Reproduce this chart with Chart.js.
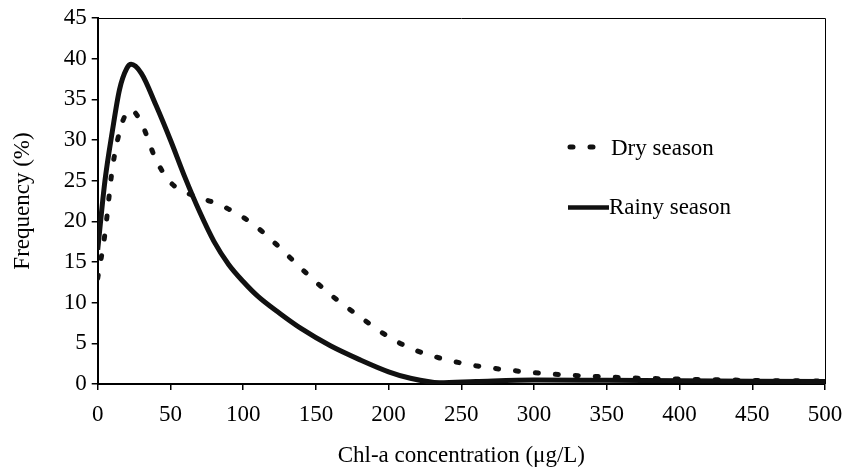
<!DOCTYPE html>
<html>
<head>
<meta charset="utf-8">
<script src="https://cdn.jsdelivr.net/npm/chart.js@4.4.1/dist/chart.umd.min.js"></script>
<style>
  html, body { margin: 0; padding: 0; background: #fff; }
  #wrap { width: 857px; height: 467px; }
</style>
</head>
<body>
<div id="wrap"><canvas id="c" width="857" height="467"></canvas></div>
<script>
// Chl-a concentration (µg/L) sample points
const concentration = [0, 5, 10, 15, 20, 23, 30, 40, 50, 60, 70, 80, 90, 100, 110, 125, 140, 160, 180, 200, 215, 235, 260, 300, 350, 400, 450, 500];
// Frequency (%) - dry season
const drySeason = [13.0, 18.5, 26.4, 31.0, 33.4, 33.7, 32.1, 27.6, 24.8, 23.6, 22.9, 22.3, 21.5, 20.5, 19.2, 16.8, 14.2, 11.0, 8.3, 5.8, 4.4, 3.2, 2.25, 1.4, 0.86, 0.6, 0.45, 0.35];
// Frequency (%) - rainy season
const rainySeason = [16.5, 25.0, 31.0, 36.2, 38.8, 39.3, 38.2, 34.3, 30.0, 25.4, 21.2, 17.5, 14.7, 12.6, 10.8, 8.7, 6.8, 4.7, 3.0, 1.5, 0.7, 0.15, 0.3, 0.5, 0.45, 0.4, 0.35, 0.3];
const seriesLabels = ['Dry season', 'Rainy season'];
const xTicks = [0, 50, 100, 150, 200, 250, 300, 350, 400, 450, 500];
const yTicks = [0, 5, 10, 15, 20, 25, 30, 35, 40, 45];

const FONT = 'Liberation Serif, "Times New Roman", serif';
const FS = 23;
Chart.defaults.font.family = FONT;
Chart.defaults.font.size = FS;
Chart.defaults.color = '#000';

const toPts = (ys) => concentration.map((x, i) => ({ x: x, y: ys[i] }));

const frameAndLegend = {
  id: 'frameAndLegend',
  afterDraw(chart) {
    const ctx = chart.ctx;
    const a = chart.chartArea;
    ctx.save();
    // top and right frame lines
    ctx.strokeStyle = '#000';
    ctx.lineWidth = 1;
    ctx.beginPath();
    ctx.moveTo(a.left, a.top + 0.5);
    ctx.lineTo(a.right + 0.5, a.top + 0.5);
    ctx.lineTo(a.right + 0.5, a.bottom);
    ctx.stroke();

    // legend
    const ds = chart.data.datasets;
    ctx.font = FS + 'px ' + FONT;
    ctx.fillStyle = '#000';
    ctx.textBaseline = 'middle';
    ctx.textAlign = 'left';
    // dry
    ctx.strokeStyle = '#111';
    ctx.lineWidth = 5;
    ctx.lineCap = 'round';
    ctx.setLineDash([3, 17]);
    ctx.beginPath();
    ctx.moveTo(570, 147);
    ctx.lineTo(594, 147);
    ctx.stroke();
    ctx.setLineDash([]);
    ctx.fillText(ds[0].label, 611, 149);
    // rainy
    ctx.lineCap = 'butt';
    ctx.lineWidth = 4.5;
    ctx.beginPath();
    ctx.moveTo(568, 207.5);
    ctx.lineTo(609, 207.5);
    ctx.stroke();
    ctx.fillText(ds[1].label, 609, 208);
    ctx.restore();
  }
};

new Chart(document.getElementById('c'), {
  type: 'line',
  data: {
    datasets: [
      {
        label: seriesLabels[0],
        data: toPts(drySeason),
        borderColor: '#111',
        borderWidth: 5,
        borderDash: [3, 17],
        borderCapStyle: 'round',
        cubicInterpolationMode: 'monotone',
        pointRadius: 0,
        fill: false
      },
      {
        label: seriesLabels[1],
        data: toPts(rainySeason),
        borderColor: '#111',
        borderWidth: 5,
        cubicInterpolationMode: 'monotone',
        pointRadius: 0,
        fill: false
      }
    ]
  },
  options: {
    responsive: false,
    animation: false,
    devicePixelRatio: 1,
    layout: { padding: { left: 0, right: 32, top: 18, bottom: 0 } },
    plugins: { legend: { display: false }, tooltip: { enabled: false } },
    scales: {
      x: {
        type: 'linear',
        min: 0,
        max: 500,
        afterFit(scale) { scale.height = 83; },
        afterBuildTicks(scale) { scale.ticks = xTicks.map(v => ({ value: v })); },
        ticks: { padding: 11, color: '#000', font: { size: FS } },
        grid: { drawOnChartArea: false, drawTicks: true, tickLength: 6, color: '#000', lineWidth: 1.5 },
        border: { display: true, color: '#000', width: 2 },
        title: { display: true, text: 'Chl-a concentration (μg/L)', color: '#000', font: { size: FS, lineHeight: 1 }, padding: { top: 0, bottom: 0 } }
      },
      y: {
        type: 'linear',
        min: 0,
        max: 45,
        afterFit(scale) { scale.width = 97.7; },
        afterBuildTicks(scale) { scale.ticks = yTicks.map(v => ({ value: v })); },
        ticks: { padding: 5, color: '#000', font: { size: FS, lineHeight: 1 } },
        grid: { drawOnChartArea: false, drawTicks: true, tickLength: 6, color: '#000', lineWidth: 1.5 },
        border: { display: true, color: '#000', width: 2 },
        title: { display: true, text: 'Frequency (%)', color: '#000', font: { size: FS, lineHeight: 1 }, padding: { top: 11, bottom: 0 } }
      }
    }
  },
  plugins: [frameAndLegend]
});
</script>
</body>
</html>
